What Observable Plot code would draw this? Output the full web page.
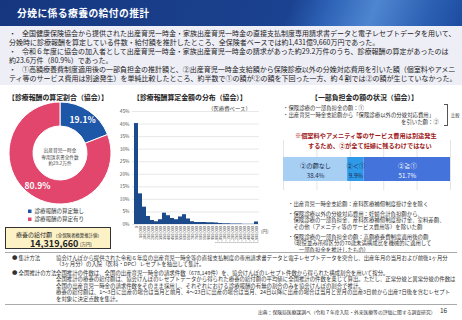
<!DOCTYPE html>
<html><head><meta charset="utf-8">
<script src="https://cdn.jsdelivr.net/npm/d3@7"></script>
<script src="https://cdn.jsdelivr.net/npm/@observablehq/plot@0.6"></script>
<style>
body{margin:0;width:462px;height:320px;overflow:hidden;position:relative;background:#fff;font-family:"Noto Sans CJK JP","Noto Sans",sans-serif;color:#222}
.a{position:absolute;white-space:nowrap;}
.s{transform:scale(0.5);transform-origin:0 0;}
#banner{position:absolute;left:0;top:0;width:462px;height:26px;background:linear-gradient(112deg,#16377f 0%,#1b4290 62%,#2d62b6 70%,#4f86d0 80%,#2b5fb2 92%,#1d4c9f 100%);}
#banner .t{position:absolute;left:17px;top:5.5px;color:#fff;font-weight:bold;font-size:9.8px;letter-spacing:0.4px;}
#intro{position:absolute;left:0;top:26px;width:462px;height:59px;background:#eeeef6;}
.b{font-size:7px;line-height:8px;color:#222}
.h{font-size:6.9px;font-weight:bold;color:#222}
.n{font-size:10.8px;line-height:13.2px;color:#333}
.f{font-size:10.8px;line-height:13px;color:#333}
</style></head><body>
<div id="banner"><div class="t">分娩に係る療養の給付の推計</div></div>
<div id="intro"></div>
<div class="a b" style="left:9px;top:29px">・</div>
<div class="a b" style="left:22px;top:29px">全国健康保険協会から提供された出産育児一時金・家族出産育児一時金の直接支払制度専用請求書データと電子レセプトデータを用いて、</div>
<div class="a b" style="left:9px;top:37.5px">分娩時に診療報酬を算定している件数・給付額を推計したところ、全保険者ベースでは約1,431億9,660万円であった。</div>
<div class="a b" style="left:9px;top:47px">・</div>
<div class="a b" style="left:22px;top:47px">令和６年度に協会の加入者として出産育児一時金・家族出産育児一時金の請求があった約29.2万件のうち、診療報酬の算定があったのは</div>
<div class="a b" style="left:9px;top:55.5px">約23.6万件（80.9%）であった。</div>
<div class="a b" style="left:9px;top:65px">・</div>
<div class="a b" style="left:22px;top:65px">①高額療養費制度適用後の一部負担金の推計額と、②出産育児一時金支給額から保険診療以外の分娩対応費用を引いた額（個室料やアメニ</div>
<div class="a b" style="left:9px;top:73.5px">ティ等のサービス費用は別途発生）を単純比較したところ、約半数で①の額が②の額を下回った一方、約４割では②の額が生じていなかった。</div>

<div class="a h" style="left:8px;top:92px">【診療報酬の算定割合（協会）】</div>
<div class="a h" style="left:133px;top:92px">【診療報酬算定金額の分布（協会）】</div>
<div class="a s" style="left:208px;top:104px;font-size:10.8px;color:#444">（医療費ベース）</div>
<div class="a h" style="left:311px;top:92px">【一部負担金の額の状況（協会）】</div>

<div id="donut" class="a" style="left:0;top:100px"></div>
<div class="a s" style="left:30px;top:146.5px;width:120px;font-size:9.4px;line-height:12.6px;color:#444;text-align:center">出産育児一時金<br>専用請求書全件数<br>約29.2万件</div>
<div id="legend" class="a s" style="left:28px;top:206px;font-size:11px;line-height:16px;color:#333"></div>
<div class="a" style="left:5px;top:227px;width:106px;height:22px;background:#fdf1c6;border:0.8px solid #333;box-sizing:border-box"></div>
<div class="a s" style="left:16px;top:229.5px;font-size:12px;color:#222">療養の給付額 <span style="font-size:8.8px">（全保険者換算推計値）</span></div>
<div class="a" style="left:30px;top:237px;font-size:9px;font-weight:bold;color:#222">14,319,660</div>
<div class="a s" style="left:80px;top:240.5px;font-size:8.8px;color:#222">[万円]</div>

<div id="hist" class="a" style="left:110px;top:104px"></div>
<div class="a s" style="left:261px;top:228px;font-size:9px;color:#444">(円)</div>

<div class="a n s" style="left:283px;top:104px">・保険診療の一部負担金の額：①</div>
<div class="a n s" style="left:283px;top:111px">・出産育児一時金支給額から「保険診療以外の分娩対応費用」</div>
<div class="a n s" style="left:401px;top:118px">を引いた額：②</div>
<div class="a" style="left:444px;top:104px;width:3px;height:20px;border:0.6px solid #555;border-left:none"></div>
<div class="a s" style="left:451px;top:111.5px;font-size:8.6px;color:#444">比較</div>

<div id="stack" class="a" style="left:275px;top:138px"></div>
<div class="a" style="left:295px;top:131px;font-size:6.2px;font-weight:bold;color:#9e1b1b">※個室料やアメニティ等のサービス費用は別途発生</div>
<div class="a" style="left:308px;top:141px;font-size:6.2px;font-weight:bold;color:#9e1b1b">するため、②が全て妊婦に残るわけではない</div>

<div class="a n s" style="left:288px;top:200px">・出産育児一時金支給額：産科医療補償制度掛け金を除く</div>
<div class="a n s" style="left:288px;top:210px">・保険診療以外の分娩対応費用：妊婦合計負担額から、<br>&#12288;保険診療の一部負担金、産科医療補償制度掛け金、室料差額、<br>&#12288;その他（アメニティ等のサービス費用等）を除いた額</div>
<div class="a n s" style="left:288px;top:232.5px">・保険診療の一部負担金の額：高額療養費制度適用後の額<br>&#12288;（現役並み所得区分の70歳未満構成比を機械的に適用して<br>&#12288;&#12288;一部負担金を推計したもの）</div>

<div class="a" style="left:5px;top:252px;width:452px;height:51px;border-top:0.8px solid #aaa;border-bottom:0.8px solid #aaa"></div>
<div class="a f s" style="left:12px;top:254px">●&nbsp;集計方法</div>
<div class="a f s" style="left:56px;top:254px">協会けんぽから提供された令和６年度の出産育児一時金等の直接支払制度の専用請求書データと電子レセプトデータを突合し、出産年月の当月および前後1ヶ月分<br>（3ヶ月分）の入院（医科・DPC）レセプトを抽出して集計。</div>
<div class="a f s" style="left:12px;top:268.5px">●&nbsp;全国推計の方法</div>
<div class="a f s" style="left:56px;top:268.5px">全国推計の件数は、全国の出産育児一時金の請求件数（678,149件）を、協会けんぽのレセプト件数から得られた構成割合を用いて按分。<br>全国推計の療養の給付額は、協会けんぽのレセプトデータから得られた療養の給付額の平均値に全国推計の件数を乗じて算出。ただし、正常分娩と異常分娩の件数は<br>全国の出産育児一時金の請求件数をそのまま採用し、それぞれにおける診療報酬の有無の割合のみを協会けんぽの割合で推計。<br>療養の給付額は、1～3日に出産の場合は当月と前月、4～23日に出産の場合は当月、24日以降に出産の場合は当月と翌月の出産3日前から出産7日後を含むレセプト<br>を対象に決定点数を集計。</div>
<div class="a s" style="left:258px;top:307.5px;font-size:9.6px;color:#333">出典：保険局医療課調べ（令和７年度入院・外来医療等の評価に関する調査研究）</div>
<div class="a" style="left:440px;top:305px;font-size:6.5px;color:#333">16</div>

<script>
// ---- data ----
const shareLabels = ["診療報酬の算定無し", "診療報酬の算定有り"];
const shareValues = [19.1, 80.9];

const binLabels = ["0","50,000","100,000","150,000","200,000","250,000","300,000","350,000","400,000","450,000","500,000","550,000","600,000","650,000","700,000","750,000","800,000","850,000","900,000","950,000","1,000,000","1,050,000","1,100,000","1,150,000","1,200,000","1,250,000","1,300,000","1,350,000","1,400,000","1,450,000","1,500,000"];
const binShares = [40.2, 12.2, 6.9, 3.2, 1.6, 1.1, 1.9, 4.5, 3.5, 2.4, 1.9, 3.0, 3.9, 2.2, 1.1, 0.8, 0.8, 0.8, 0.7, 0.7, 0.6, 0.4, 0.3, 0.3, 0.2, 0.2, 0.2, 0.1, 0.1, 0.1, 1.0];
const yTicks = [0, 5, 10, 15, 20, 25, 30, 35, 40, 45];

const statusLabels = ["②の額なし", "②＜①", "②≧①"];
const statusShares = [38.4, 9.9, 51.7];
const statusTicks = [0, 20, 40, 60, 80, 100];

// ---- styles ----
const shareColors = ["#1f57a8", "#e2466c"];
const statusColors = ["#a6cff3", "#2f9ae8", "#4573dc"];
const statusTextColors = ["#1d2b4f", "#1d2b4f", "#ffffff"];
const font = '"Noto Sans CJK JP","Noto Sans",sans-serif';

// ---- donut ----
const donutData = shareLabels.map((k, i) => ({key: k, value: shareValues[i], color: shareColors[i]}));
const donut = Plot.plot({
  width: 122, height: 110, margin: 0,
  style: {fontFamily: font, background: "transparent"},
  marks: [
    () => {
      const g = d3.create("svg:g").attr("transform", "translate(60,53)");
      const arcs = d3.pie().sort(null).value(d => d.value)(donutData);
      const arc = d3.arc().innerRadius(27).outerRadius(51);
      g.selectAll("path").data(arcs).join("path")
        .attr("d", arc).attr("fill", d => d.data.color)
        .attr("stroke", "#fff").attr("stroke-width", 1);
      const lab = d3.arc().innerRadius(40).outerRadius(40);
      g.selectAll("text").data(arcs).join("text")
        .attr("transform", d => `translate(${lab.centroid(d)})`)
        .attr("text-anchor", "middle").attr("dy", "0.35em")
        .attr("fill", "#fff").attr("font-weight", "bold").attr("font-size", 8.5)
        .text(d => d.data.value.toFixed(1) + "%");
      return g.node();
    }
  ]
});
document.getElementById("donut").append(donut);

const legend = document.getElementById("legend");
shareLabels.forEach((k, i) => {
  const row = document.createElement("div");
  row.innerHTML = `<span style="display:inline-block;width:7px;height:7px;background:${shareColors[i]};margin-right:6px;vertical-align:middle"></span>${k}`;
  legend.append(row);
});

// ---- histogram ----
const histData = binLabels.map((b, i) => ({bin: b, share: binShares[i]}));
const hist = Plot.plot({
  width: 158, height: 146,
  marginLeft: 22, marginRight: 9, marginTop: 7, marginBottom: 26,
  style: {fontFamily: font, background: "transparent", color: "#555"},
  x: {domain: binLabels, padding: 0.05, label: null},
  y: {domain: [0, 45], label: null},
  marks: [
    Plot.gridY(yTicks, {stroke: "#d9d9d9", strokeOpacity: 1, strokeWidth: 0.6}),
    Plot.axisY(yTicks, {tickSize: 0, tickPadding: 3, fontSize: 4.8, tickFormat: d => d + "%", label: null}),
    Plot.axisX({tickSize: 0, tickPadding: 1.5, tickRotate: -90, fontSize: 3.9, label: null}),
    Plot.barY(histData, {x: "bin", y: "share", fill: "#1c4a8b"})
  ]
});
document.getElementById("hist").append(hist);

// ---- stacked status bar ----
let acc = 0;
const statusData = statusLabels.map((k, i) => {
  const d = {key: k, value: statusShares[i], start: acc, mid: acc + statusShares[i] / 2, tc: statusTextColors[i]};
  acc += statusShares[i];
  return d;
});
const stack = Plot.plot({
  width: 185, height: 54,
  marginLeft: 8, marginRight: 10, marginTop: 2, marginBottom: 2,
  style: {fontFamily: font, background: "transparent"},
  x: {domain: [0, 100], axis: null},
  y: {domain: ["all"], axis: null, padding: 0},
  color: {domain: statusLabels, range: statusColors},
  marks: [
    Plot.ruleX(statusTicks, {stroke: "#d9d9d9", strokeWidth: 0.7}),
    Plot.barX(statusData, Plot.stackX({x: "value", y: () => "all", fill: "key", insetTop: 17, insetBottom: 9})),
    Plot.text(statusData.filter(d => d.tc !== "#ffffff"), {x: "mid", y: () => "all", text: d => d.key + "\n" + d.value.toFixed(1) + "%", fill: "#1d2b4f", fontSize: 6.2, lineHeight: 1.6, dy: 4}),
    Plot.text(statusData.filter(d => d.tc === "#ffffff"), {x: "mid", y: () => "all", text: d => d.key + "\n" + d.value.toFixed(1) + "%", fill: "#ffffff", fontSize: 6.2, lineHeight: 1.6, dy: 4})
  ]
});
document.getElementById("stack").append(stack);
</script>
</body></html>
